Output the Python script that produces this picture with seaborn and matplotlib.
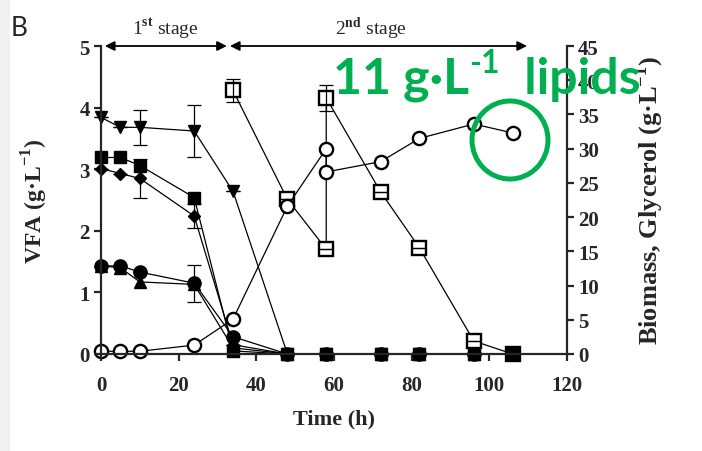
import matplotlib
matplotlib.use("Agg")
import matplotlib.pyplot as plt
import seaborn as sns
from matplotlib.patches import Ellipse, Rectangle

# time points (h)
time = [0, 5, 10, 24, 34, 48, 58, 72, 82, 96, 106]

# VFA components (g/L), left axis
vfa_tri_down = [3.84, 3.68, 3.68, 3.62, 2.64, 0, 0, 0, 0, 0, 0]
vfa_tri_down_err = [0, 0, 0.28, 0.43, 0, 0, 0, 0, 0, 0, 0]
vfa_square = [3.19, 3.19, 3.06, 2.54, 0.05, 0, 0, 0, 0, 0, 0]
vfa_diamond = [3.01, 2.93, 2.85, 2.24, 0.15, 0, 0, 0, 0, 0, 0]
vfa_diamond_err = [0, 0, 0.31, 0.2, 0, 0, 0, 0, 0, 0, 0]
vfa_circle = [1.43, 1.43, 1.33, 1.15, 0.28, 0, 0, 0, 0, 0, 0]
vfa_circle_err = [0, 0, 0, 0.3, 0, 0, 0, 0, 0, 0, 0]
vfa_tri_up = [1.43, 1.40, 1.17, 1.13, 0.10, 0, 0, 0, 0, 0, 0]

# biomass and glycerol (g/L), right axis
biomass_time = [0, 5, 10, 24, 34, 48, 58, 58, 72, 82, 96, 106]
biomass = [0.4, 0.4, 0.4, 1.3, 5.1, 21.6, 30.0, 26.6, 28.1, 31.5, 33.6, 32.3]
glycerol_time = [34, 48, 58, 58, 72, 82, 96, 106]
glycerol = [38.5, 22.6, 15.3, 37.4, 23.7, 15.5, 1.9, 0]
glycerol_err = [1.7, 0, 0, 1.9, 0, 0, 0, 0]

green = "#00B050"
sans = ["Lato", "DejaVu Sans"]

sns.set_style("ticks")
plt.rcParams["font.family"] = ["Liberation Serif", "DejaVu Serif"]
plt.rcParams["font.weight"] = "bold"
plt.rcParams["mathtext.fontset"] = "custom"
plt.rcParams["mathtext.rm"] = "Liberation Serif"
plt.rcParams["mathtext.bf"] = "Liberation Serif:bold"

fig = plt.figure(figsize=(7.02, 4.52), dpi=100)
fig.patch.set_facecolor("white")
fig.add_artist(Rectangle((0, 0), 10 / 702, 1, transform=fig.transFigure,
                         facecolor="#f0f0f0", edgecolor="none", zorder=0))

ax1 = fig.add_axes([101 / 702, 97 / 452, 466 / 702, 308 / 452])
ax2 = ax1.twinx()
ax1.set_zorder(ax2.get_zorder() + 1)
ax1.patch.set_visible(False)

line_kw = dict(estimator=None, sort=False, color="black", linewidth=0.9,
               clip_on=False, legend=False)

# right axis: glycerol (open squares) and biomass (open circles)
sns.lineplot(x=glycerol_time, y=glycerol, ax=ax2, marker="s", markersize=9.5,
             markerfacecolor="white", markeredgecolor="black",
             markeredgewidth=1.7, **line_kw)
ax2.errorbar(glycerol_time, glycerol, yerr=glycerol_err, fmt="none",
             ecolor="black", elinewidth=0.9, capsize=5, capthick=0.9, clip_on=False)
sns.lineplot(x=biomass_time, y=biomass, ax=ax2, marker="o", markersize=9.5,
             markerfacecolor="white", markeredgecolor="black",
             markeredgewidth=1.7, **line_kw)

# left axis: VFA
for vals, err, mk, ms in [
    (vfa_tri_up, None, "^", 8.5),
    (vfa_circle, vfa_circle_err, "o", 9.5),
    (vfa_diamond, vfa_diamond_err, "D", 6),
    (vfa_tri_down, vfa_tri_down_err, "v", 9),
    (vfa_square, None, "s", 9),
]:
    if err is not None:
        ax1.errorbar(time, vals, yerr=err, fmt="none", ecolor="black",
                     elinewidth=0.9, capsize=5, capthick=0.9, clip_on=False)
    sns.lineplot(x=time, y=vals, ax=ax1, marker=mk, markersize=ms,
                 markerfacecolor="black", markeredgecolor="black",
                 markeredgewidth=1, **line_kw)

ax1.set_xlim(0, 120)
ax1.set_ylim(0, 5)
ax2.set_ylim(0, 45)
ax1.set_xticks(range(0, 121, 20))
ax1.set_yticks(range(0, 6))
ax2.set_yticks(range(0, 46, 5))

for ax in (ax1, ax2):
    for s in ax.spines.values():
        s.set_linewidth(1.6)
    ax.spines["top"].set_visible(False)
ax1.spines["right"].set_visible(False)
ax2.spines["left"].set_visible(False)
ax2.spines["bottom"].set_visible(False)

ax1.tick_params(axis="y", direction="out", length=5, width=1.6, labelsize=15, pad=3)
ax1.tick_params(axis="x", direction="out", length=5, width=1.6, labelsize=15, pad=10)
ax2.tick_params(axis="y", direction="out", length=5, width=1.6, labelsize=15, pad=3)

ax1.set_xlabel("Time (h)", fontsize=16, fontweight="bold", labelpad=10)
ax1.set_ylabel(r"VFA (g·L$^{\mathbf{-1}}$)", fontsize=17, fontweight="bold")
ax1.yaxis.set_label_coords(-0.11, 0.5)
ax2.set_ylabel(r"Biomass, Glycerol (g·L$^{\mathbf{-1}}$)", fontsize=19,
               fontweight="bold", rotation=90)
ax2.yaxis.set_label_coords(1.14, 0.5)

# stage arrows
arrow_kw = dict(arrowstyle="<|-|>", color="black", lw=1.3, mutation_scale=14,
                shrinkA=0, shrinkB=0)
ax1.annotate("", xy=(32.4, 5), xytext=(1, 5), arrowprops=arrow_kw,
             annotation_clip=False)
ax1.annotate("", xy=(109.7, 5), xytext=(33.2, 5), arrowprops=arrow_kw,
             annotation_clip=False)
ax1.text(16.5, 5.2, r"1$^{\rm st}$ stage", ha="center", va="baseline",
         fontsize=14, fontweight="normal")
ax1.text(69.5, 5.2, r"2$^{\rm nd}$ stage", ha="center", va="baseline",
         fontsize=14, fontweight="normal")

fig.text(11 / 702, 1 - 36 / 452, "B", fontsize=19, fontweight="normal",
         family=sans, ha="left", va="baseline")

# green annotation overlay
t1 = fig.text(333 / 702, 1 - 94 / 452, "11 g·L", fontsize=36, color=green,
              family=sans, fontweight="bold", ha="left", va="baseline")
t2 = plt.annotate("-1", xy=(1, 0.55), xycoords=t1, fontsize=23, color=green,
                  family=sans, fontweight="bold",
                  ha="left", va="bottom", annotation_clip=False)
plt.annotate("  lipids", xy=(1, 0), xycoords=(t2, t1), fontsize=36, color=green,
             family=sans, fontweight="bold",
             ha="left", va="bottom", annotation_clip=False)
fig.add_artist(Ellipse((510 / 702, 1 - 141 / 452), 76 / 702, 78 / 452,
                       transform=fig.transFigure, fill=False,
                       edgecolor=green, linewidth=3.6, zorder=10))

fig.savefig("out.png", dpi=100)
